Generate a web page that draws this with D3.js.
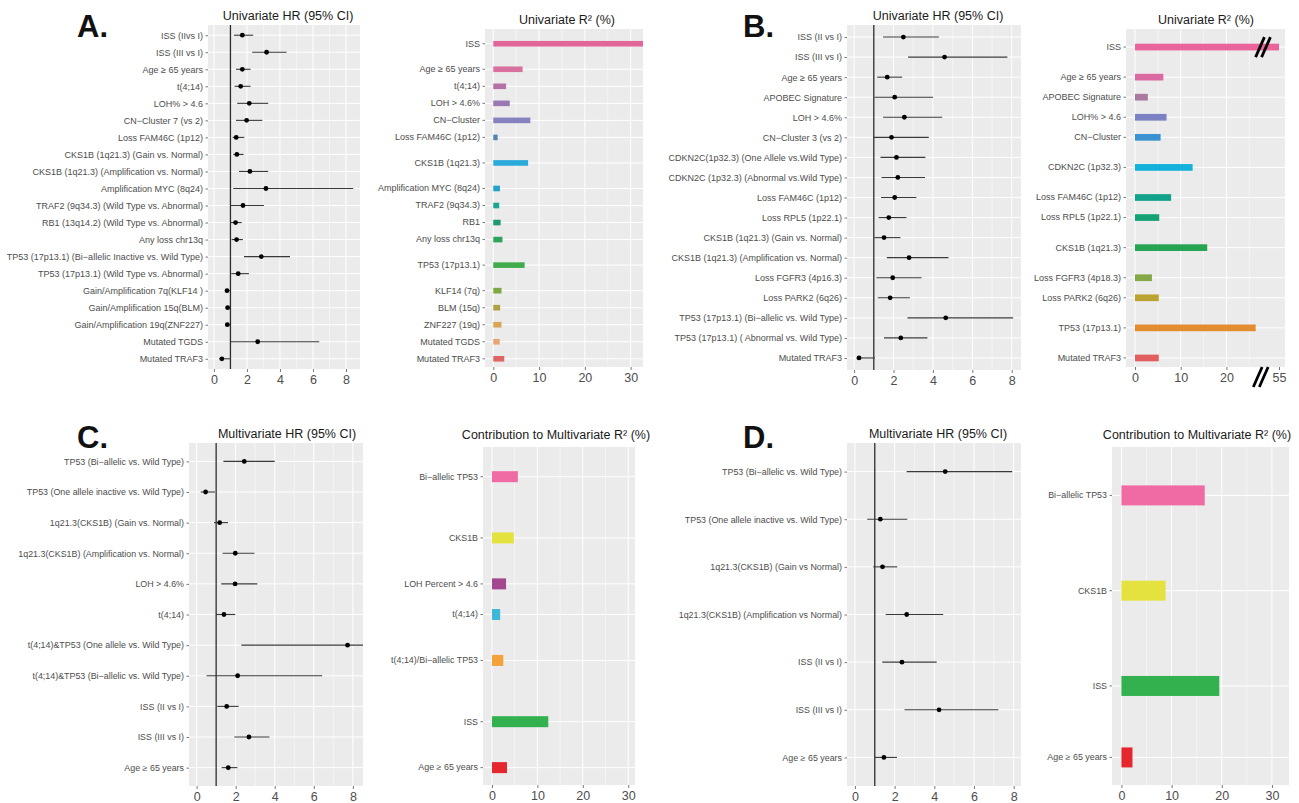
<!DOCTYPE html>
<html>
<head>
<meta charset="utf-8">
<script src="https://cdn.jsdelivr.net/npm/d3@7"></script>
<style>
  body { margin: 0; background: #fff; }
  svg text { font-family: "Liberation Sans", Arial, Helvetica, sans-serif; }
</style>
</head>
<body>
<svg id="fig" width="1299" height="803"></svg>
<script>
// ---- panel A : univariate, HR rows
var aLabels = ["ISS (IIvs I)", "ISS (III vs I)", "Age \u2265 65 years", "t(4;14)", "LOH% > 4.6",
  "CN\u2212Cluster 7 (vs 2)", "Loss FAM46C (1p12)", "CKS1B (1q21.3) (Gain vs. Normal)",
  "CKS1B (1q21.3) (Amplification vs. Normal)", "Amplification MYC (8q24)",
  "TRAF2 (9q34.3) (Wild Type vs. Abnormal)", "RB1 (13q14.2) (Wild Type vs. Abnormal)",
  "Any loss chr13q", "TP53 (17p13.1) (Bi\u2212allelic Inactive vs. Wild Type)",
  "TP53 (17p13.1) (Wild Type vs. Abnormal)", "Gain/Amplification 7q(KLF14 )",
  "Gain/Amplification 15q(BLM)", "Gain/Amplification 19q(ZNF227)", "Mutated TGDS", "Mutated TRAF3"];
var aHR   = [1.72, 3.19, 1.72, 1.62, 2.14, 1.98, 1.35, 1.39, 2.18, 3.15, 1.76, 1.31, 1.37, 2.87, 1.47, 0.79, 0.83, 0.81, 2.65, 0.48];
var aLow  = [1.21, 2.32, 1.33, 1.25, 1.41, 1.33, 1.13, 1.17, 1.52, 1.17, 1.01, 1.01, 1.07, 1.82, 1.05, 0.67, 0.71, 0.69, 1.01, 0.32];
var aHigh = [2.38, 4.40, 2.22, 2.22, 3.29, 2.93, 1.84, 1.80, 3.29, 8.44, 3.03, 1.68, 1.76, 4.61, 2.12, 0.97, 0.99, 0.99, 6.38, 1.01];

// panel A : univariate R2, each bar covers "span" HR rows
var aR2Labels = ["ISS", "Age \u2265 65 years", "t(4;14)", "LOH > 4.6%", "CN\u2212Cluster", "Loss FAM46C (1p12)",
  "CKS1B (1q21.3)", "Amplification MYC (8q24)", "TRAF2 (9q34.3)", "RB1", "Any loss chr13q",
  "TP53 (17p13.1)", "KLF14 (7q)", "BLM (15q)", "ZNF227 (19q)", "Mutated TGDS", "Mutated TRAF3"];
var aR2Values = [55, 6.4, 2.8, 3.6, 8.1, 0.95, 7.6, 1.45, 1.3, 1.6, 2.0, 6.85, 1.8, 1.5, 1.8, 1.4, 2.4];
var aR2Spans  = [2, 1, 1, 1, 1, 1, 2, 1, 1, 1, 1, 2, 1, 1, 1, 1, 1];

// ---- panel B
var bLabels = ["ISS (II vs I)", "ISS (III vs I)", "Age \u2265 65 years", "APOBEC Signature", "LOH > 4.6%",
  "CN\u2212Cluster 3 (vs 2)", "CDKN2C(1p32.3) (One Allele vs.Wild Type)", "CDKN2C (1p32.3) (Abnormal vs.Wild Type)",
  "Loss FAM46C (1p12)", "Loss RPL5 (1p22.1)", "CKS1B (1q21.3) (Gain vs. Normal)",
  "CKS1B (1q21.3) (Amplification vs. Normal)", "Loss FGFR3 (4p16.3)", "Loss PARK2 (6q26)",
  "TP53 (17p13.1) (Bi\u2212allelic vs. Wild Type)", "TP53 (17p13.1) ( Abnormal vs. Wild Type)", "Mutated TRAF3"];
var bHR   = [2.50, 4.59, 1.68, 2.06, 2.55, 1.90, 2.15, 2.22, 2.06, 1.76, 1.52, 2.79, 1.96, 1.83, 4.65, 2.37, 0.25];
var bLow  = [1.47, 2.74, 1.17, 1.03, 1.47, 0.96, 1.34, 1.39, 1.37, 1.24, 1.03, 1.66, 1.13, 1.20, 2.71, 1.52, 0.12];
var bHigh = [4.30, 7.78, 2.44, 4.01, 4.47, 3.79, 3.62, 3.60, 3.16, 2.66, 2.35, 4.79, 3.42, 2.83, 8.07, 3.72, 1.05];

var bR2Labels = ["ISS", "Age \u2265 65 years", "APOBEC Signature", "LOH% > 4.6", "CN\u2212Cluster", "CDKN2C (1p32.3)",
  "Loss FAM46C (1p12)", "Loss RPL5 (1p22.1)", "CKS1B (1q21.3)", "Loss FGFR3 (4p18.3)", "Loss PARK2 (6q26)",
  "TP53 (17p13.1)", "Mutated TRAF3"];
var bR2Values = [55, 6.2, 2.8, 6.9, 5.6, 12.6, 7.9, 5.3, 15.8, 3.7, 5.2, 26.4, 5.2];
var bR2Spans  = [2, 1, 1, 1, 1, 2, 1, 1, 2, 1, 1, 2, 1];

// ---- panel C : multivariate
var cLabels = ["TP53 (Bi\u2212allelic vs. Wild Type)", "TP53 (One allele inactive vs. Wild Type)",
  "1q21.3(CKS1B) (Gain vs. Normal)", "1q21.3(CKS1B) (Amplification vs. Normal)", "LOH > 4.6%", "t(4;14)",
  "t(4;14)&TP53 (One allele vs. Wild Type)", "t(4;14)&TP53 (Bi\u2212allelic vs. Wild Type)",
  "ISS (II vs I)", "ISS (III vs I)", "Age \u2265 65 years"];
var cHR   = [2.44, 0.46, 1.18, 1.98, 1.97, 1.40, 7.73, 2.10, 1.54, 2.68, 1.62];
var cLow  = [1.37, 0.21, 0.89, 1.33, 1.26, 0.99, 2.29, 0.51, 1.06, 1.93, 1.28];
var cHigh = [4.00, 0.94, 1.61, 2.96, 3.11, 1.98, 8.80, 6.43, 2.15, 3.73, 2.09];

var cR2Labels = ["Bi\u2212allelic TP53", "CKS1B", "LOH Percent > 4.6", "t(4;14)", "t(4;14)/Bi\u2212allelic TP53", "ISS", "Age \u2265 65 years"];
var cR2Values = [5.7, 4.8, 3.1, 1.8, 2.5, 12.4, 3.3];
var cR2Spans  = [2, 2, 1, 1, 2, 2, 1];

// ---- panel D
var dLabels = ["TP53 (Bi\u2212allelic vs. Wild Type)", "TP53 (One allele inactive vs. Wild Type)",
  "1q21.3(CKS1B) (Gain vs Normal)", "1q21.3(CKS1B) (Amplification vs Normal)",
  "ISS (II vs I)", "ISS (III vs I)", "Age \u2265 65 years"];
var dHR   = [4.55, 1.28, 1.39, 2.61, 2.37, 4.24, 1.46];
var dLow  = [2.61, 0.62, 0.92, 1.55, 1.38, 2.50, 0.99];
var dHigh = [7.93, 2.64, 2.13, 4.45, 4.12, 7.23, 2.12];

var dR2Labels = ["Bi\u2212allelic TP53", "CKS1B", "ISS", "Age \u2265 65 years"];
var dR2Values = [16.6, 8.8, 19.5, 2.2];
var dR2Spans  = [2, 2, 2, 1];

// bar colours
var aR2Colors = ["#e2669a", "#d9719f", "#b46fa6", "#9a78b2", "#8582bf", "#4f86b4", "#2aa9db", "#22a3cc",
  "#1ea390", "#1e9a72", "#2ea35c", "#3fab4a", "#7fa843", "#aea142", "#d7a554", "#e8a472", "#e16464"];
var bR2Colors = ["#e8649b", "#dc6aa2", "#a9799f", "#7b82c4", "#3b92d2", "#13b2da", "#12a28c", "#14a274",
  "#26a452", "#84a845", "#bba331", "#e48d30", "#e25e5e"];
var cR2Colors = ["#f06aa3", "#e3e23e", "#a3488f", "#3fb7d9", "#f2a33a", "#33b14e", "#e5262e"];
var dR2Colors = ["#f06aa3", "#e3e23e", "#33b14e", "#e5262e"];

var svg = d3.select('#fig');
var BG = '#ebebeb', TXT = '#4d4d4d';
var clipCount = 0;

function background(box) {
    svg.append('rect')
        .attr('x', box.x0).attr('y', box.y0)
        .attr('width', box.x1 - box.x0).attr('height', box.y1 - box.y0)
        .attr('fill', BG);
}

function clipFor(box) {
    var id = 'clip' + (clipCount++);
    svg.append('clipPath').attr('id', id)
      .append('rect')
        .attr('x', box.x0).attr('y', box.y0)
        .attr('width', box.x1 - box.x0).attr('height', box.y1 - box.y0);
    return 'url(#' + id + ')';
}

function vGrid(box, x, major, minor) {
    var g = svg.append('g');
    g.selectAll('.minor').data(minor).enter().append('line')
        .attr('x1', x).attr('x2', x).attr('y1', box.y0).attr('y2', box.y1)
        .attr('stroke', '#fff').attr('stroke-width', 0.5);
    g.selectAll('.major').data(major).enter().append('line')
        .attr('x1', x).attr('x2', x).attr('y1', box.y0).attr('y2', box.y1)
        .attr('stroke', '#fff').attr('stroke-width', 1);
}

function hGrid(box, ys) {
    svg.append('g').selectAll('line').data(ys).enter().append('line')
        .attr('x1', box.x0).attr('x2', box.x1).attr('y1', function (d) { return d; }).attr('y2', function (d) { return d; })
        .attr('stroke', '#fff').attr('stroke-width', 1);
}

function styleAxis(g, fs) {
    g.attr('font-family', null).attr('font-size', null);
    g.select('.domain').remove();
    g.selectAll('.tick line').attr('stroke', '#555').attr('stroke-width', 0.8);
    g.selectAll('.tick text').attr('fill', TXT).style('font-size', fs + 'px');
}

function title(txt, x, y) {
    svg.append('text').attr('x', x).attr('y', y)
        .attr('text-anchor', 'middle').attr('fill', '#1a1a1a')
        .style('font-size', '12.5px').text(txt);
}

function letter(txt, x, y) {
    svg.append('text').attr('x', x).attr('y', y)
        .attr('fill', '#111').style('font-size', '31px').style('font-weight', 'bold')
        .text(txt);
}

// forest plot of HR with CI; returns the row scale so the R2 panel can line up
function forest(p) {
    var box = p.box;
    var n = p.labels.length;
    var x = d3.scaleLinear().domain(p.domain).range([box.x0, box.x1]);
    var y = d3.scaleLinear().domain([-0.6, n - 0.4]).range([box.y0, box.y1]);
    var rows = d3.range(n);

    background(box);
    vGrid(box, x, [0, 2, 4, 6, 8], [1, 3, 5, 7]);
    hGrid(box, rows.map(y));

    var clip = clipFor(box);
    var g = svg.append('g').attr('clip-path', clip);

    g.append('line')
        .attr('x1', x(1)).attr('x2', x(1)).attr('y1', box.y0).attr('y2', box.y1)
        .attr('stroke', '#2b2b2b').attr('stroke-width', 1.3);

    g.selectAll('.ci').data(rows).enter().append('line')
        .attr('class', 'ci')
        .attr('x1', function (i) { return x(p.lo[i]); })
        .attr('x2', function (i) { return x(p.hi[i]); })
        .attr('y1', y).attr('y2', y)
        .attr('stroke', '#3a3a3a').attr('stroke-width', 1.1);

    g.selectAll('.pt').data(rows).enter().append('circle')
        .attr('class', 'pt')
        .attr('cx', function (i) { return x(p.hr[i]); })
        .attr('cy', y).attr('r', 2.4).attr('fill', '#000');

    var ax = svg.append('g').attr('transform', 'translate(0,' + box.y1 + ')')
        .call(d3.axisBottom(x).tickValues([0, 2, 4, 6, 8]).tickSize(3).tickPadding(3));
    styleAxis(ax, 12.5);

    var ay = svg.append('g').attr('transform', 'translate(' + box.x0 + ',0)')
        .call(d3.axisLeft(y).tickValues(rows).tickSize(2.5).tickPadding(2.5)
            .tickFormat(function (i) { return p.labels[i]; }));
    styleAxis(ay, p.fs);

    title(p.title, p.titleX, p.titleY);
    return y;
}

// horizontal bar chart of R2 lined up with the forest rows
function bars(p, y) {
    var box = p.box;
    var x = p.x;
    var centers = [], start = 0;
    p.spans.forEach(function (s) {
        centers.push(y(start + (s - 1) / 2));
        start += s;
    });

    background(box);
    vGrid(box, x, p.major, p.minor);
    hGrid(box, centers);

    var clip = clipFor(box);
    svg.append('g').attr('clip-path', clip)
      .selectAll('rect').data(p.values).enter().append('rect')
        .attr('x', x(0))
        .attr('y', function (d, i) { return centers[i] - p.barH / 2; })
        .attr('width', function (d) { return x(d) - x(0); })
        .attr('height', p.barH)
        .attr('fill', function (d, i) { return p.colors[i]; });

    var ax = svg.append('g').attr('transform', 'translate(0,' + box.y1 + ')')
        .call(d3.axisBottom(x).tickValues(p.ticks).tickSize(3).tickPadding(3));
    styleAxis(ax, 12.5);

    var ay = svg.append('g').attr('transform', 'translate(' + box.x0 + ',0)')
        .call(d3.axisLeft(d3.scaleLinear().range([0, 1])).tickValues(d3.range(centers.length))
            .tickSize(2.5).tickPadding(2.5)
            .tickFormat(function (i) { return p.labels[i]; }));
    ay.selectAll('.tick').attr('transform', function (i) { return 'translate(0,' + centers[i] + ')'; });
    styleAxis(ay, p.fs);

    title(p.title, p.titleX, p.titleY);
    return x;
}

function breakMark(cx, cy, h) {
    [-3, 3].forEach(function (dx) {
        svg.append('line')
            .attr('x1', cx + dx - h * 0.22).attr('y1', cy + h / 2)
            .attr('x2', cx + dx + h * 0.22).attr('y2', cy - h / 2)
            .attr('stroke', '#000').attr('stroke-width', 2.8);
    });
}

// ---------------- A
letter('A.', 77, 37);
var yA = forest({
    labels: aLabels, hr: aHR, lo: aLow, hi: aHigh,
    box: {x0: 208, x1: 360, y0: 25, y1: 369}, domain: [-0.36, 8.85],
    fs: 9, title: 'Univariate HR (95% CI)', titleX: 288, titleY: 20
});
bars({
    labels: aR2Labels, values: aR2Values, spans: aR2Spans, colors: aR2Colors,
    box: {x0: 485, x1: 643, y0: 29, y1: 367},
    x: d3.scaleLinear().domain([-1.81, 32.7]).range([485, 643]),
    major: [0, 10, 20, 30], minor: [5, 15, 25], ticks: [0, 10, 20, 30],
    barH: 5.6, fs: 9, title: 'Univariate R\u00b2 (%)', titleX: 567, titleY: 24
}, yA);

// ---------------- B
letter('B.', 743, 37);
var yB = forest({
    labels: bLabels, hr: bHR, lo: bLow, hi: bHigh,
    box: {x0: 847, x1: 1021, y0: 25, y1: 370}, domain: [-0.36, 8.47],
    fs: 9, title: 'Univariate HR (95% CI)', titleX: 938, titleY: 20
});
var xB2 = bars({
    labels: bR2Labels, values: bR2Values, spans: bR2Spans, colors: bR2Colors,
    box: {x0: 1126, x1: 1285, y0: 29, y1: 367},
    x: d3.scaleLinear().domain([-1.97, 28, 55, 58]).range([1126, 1263, 1279, 1285]),
    major: [0, 10, 20], minor: [5, 15, 25], ticks: [0, 10, 20, 55],
    barH: 6.7, fs: 9, title: 'Univariate R\u00b2 (%)', titleX: 1206, titleY: 24
}, yB);
breakMark(xB2(28), yB(0.5), 20);
breakMark(xB2(27.5), 377, 20);

// ---------------- C
letter('C.', 77, 448);
var yC = forest({
    labels: cLabels, hr: cHR, lo: cLow, hi: cHigh,
    box: {x0: 189, x1: 363, y0: 443, y1: 786}, domain: [-0.39, 8.52],
    fs: 8.9, title: 'Multivariate HR (95% CI)', titleX: 287, titleY: 438
});
bars({
    labels: cR2Labels, values: cR2Values, spans: cR2Spans, colors: cR2Colors,
    box: {x0: 483, x1: 635, y0: 447, y1: 785},
    x: d3.scaleLinear().domain([-1.98, 31.5]).range([483, 635]),
    major: [0, 10, 20, 30], minor: [5, 15, 25], ticks: [0, 10, 20, 30],
    barH: 11, fs: 8.9, title: 'Contribution to Multivariate R\u00b2 (%)', titleX: 556, titleY: 439
}, yC);

// ---------------- D
letter('D.', 743, 448);
var yD = forest({
    labels: dLabels, hr: dHR, lo: dLow, hi: dHigh,
    box: {x0: 847, x1: 1021, y0: 443, y1: 786}, domain: [-0.4, 8.37],
    fs: 8.9, title: 'Multivariate HR (95% CI)', titleX: 938, titleY: 438
});
bars({
    labels: dR2Labels, values: dR2Values, spans: dR2Spans, colors: dR2Colors,
    box: {x0: 1112, x1: 1289, y0: 447, y1: 785},
    x: d3.scaleLinear().domain([-1.88, 33.4]).range([1112, 1289]),
    major: [0, 10, 20, 30], minor: [5, 15, 25], ticks: [0, 10, 20, 30],
    barH: 20, fs: 8.9, title: 'Contribution to Multivariate R\u00b2 (%)', titleX: 1197, titleY: 439
}, yD);
</script>
</body>
</html>
